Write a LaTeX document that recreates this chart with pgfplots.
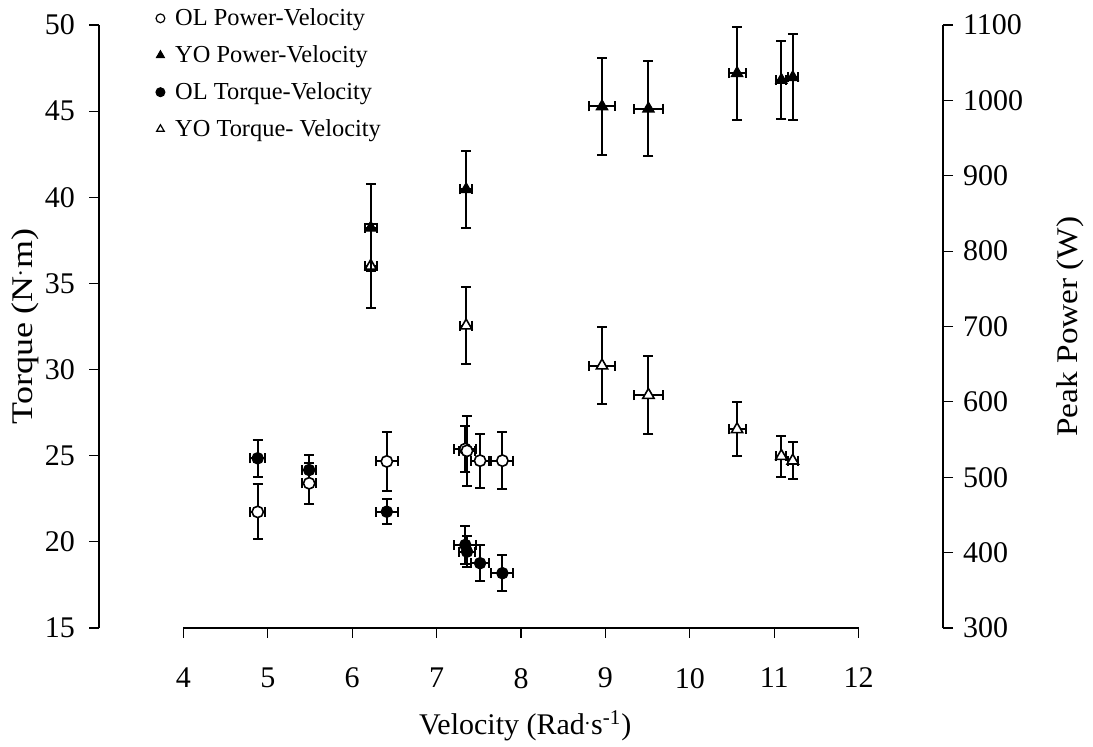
\documentclass[border=0pt]{standalone}
\usepackage{fontspec}
\setmainfont{Liberation Serif}
\usepackage{pgfplots}
\pgfplotsset{compat=1.18}
\usepackage{pgfplotstable}

% OL group: velocity, velocity error, torque, torque error, power, power error
\pgfplotstableread{
x      xe    T      Te    P      Pe
4.88   0.09  24.85  1.06  454    36.5
5.49   0.08  24.17  0.87  492    27.5
6.41   0.13  21.75  0.73  521    39
7.34   0.13  19.82  1.10  537.5  31
7.36   0.10  19.43  0.90  535    46
7.515  0.11  18.76  1.04  522    36
7.78   0.13  18.18  1.06  522    37.6
}\oltable

% YO group
\pgfplotstableread{
x      xe    T      Te    P      Pe
6.22   0.07  36.01  2.42  831    58
7.35   0.07  32.55  2.22  882    51
8.96   0.15  30.23  2.25  992    64
9.51   0.17  28.52  2.27  989    63
10.56  0.10  26.53  1.57  1036   62
11.085 0.06  24.98  1.19  1027   52
11.22  0.06  24.71  1.07  1030.6 57
}\yotable

\begin{document}
\begin{tikzpicture}
\pgfplotsset{
  common/.style={
    scale only axis, width=422pt, height=301.5pt,
    xmin=3, xmax=13,
    /pgf/number format/assume math mode=true,
    /pgf/number format/1000 sep={},
    tick align=outside, major tick length=5pt,
    every tick/.style={black, line width=0.6pt},
    axis line style={black, line width=0.6pt, -},
    ticklabel style={font=\fontsize{15}{17}\selectfont},
    label style={font=\fontsize{15}{17}\selectfont},
    clip=false,
  },
  ebars/.style={
    only marks,
    error bars/x dir=both, error bars/x explicit,
    error bars/y dir=both, error bars/y explicit,
    error bars/error bar style={line width=1pt, black},
    error bars/error mark options={rotate=90, black, line width=1pt, mark size=2.5pt},
  },
}
\begin{axis}[common,
  axis y line*=left, axis x line*=bottom,
  x axis line style={shorten <=42.2pt, shorten >=42.2pt},
  xtick={4,...,12},
  xticklabel style={yshift=-11.5pt},
  ymin=15, ymax=50, ytick={15,20,...,50},
  yticklabel style={xshift=-3.5pt},
  xlabel={Velocity (Rad\textsuperscript{.}s\textsuperscript{-1})},
  xlabel style={at={(axis description cs:0.505,-0.1625)}, anchor=center},
  ylabel={\scalebox{1.2}[1]{Torque (N\textsuperscript{.}m)}},
  ylabel style={at={(axis description cs:-0.0877,0.5)}, anchor=center},
]
% OL Torque-Velocity
\addplot[ebars, mark=*, mark size=2.83pt, mark options={fill=black, draw=black, line width=0.6pt}]
  table[x=x, y=T, x error=xe, y error=Te]{\oltable};
% YO Torque-Velocity
\addplot[ebars, mark=triangle*, mark size=3.26pt, mark options={fill=white, draw=black, line width=0.8pt}]
  table[x=x, y=T, x error=xe, y error=Te]{\yotable};
\end{axis}

\begin{axis}[common,
  axis y line*=right, axis x line=none,
  ymin=300, ymax=1100, ytick={300,400,...,1100},
  yticklabel style={xshift=1.5pt},
  ylabel={\scalebox{1.11}[1]{Peak Power (W)}},
  ylabel style={at={(axis description cs:1.1505,0.5)}, anchor=center},
  legend style={at={(0.06,1.0415)}, anchor=north west, draw=none, fill=none,
    font=\fontsize{12.2}{14}\selectfont, row sep=4.5pt},
  legend cell align=left,
  legend image code/.code={\draw[#1, mark size=2.2pt, line width=0.6pt] plot coordinates {(0cm,0cm)}; \path (5.2pt,0pt);},
]
% OL Power-Velocity
\addplot[ebars, forget plot, mark=*, mark size=2.83pt, mark options={fill=white, draw=black, line width=0.8pt}]
  table[x=x, y=P, x error=xe, y error=Pe]{\oltable};
% YO Power-Velocity
\addplot[ebars, forget plot, mark=triangle*, mark size=3.26pt, mark options={fill=black, draw=black, line width=0.6pt}]
  table[x=x, y=P, x error=xe, y error=Pe]{\yotable};

\addlegendimage{only marks, mark=*, mark options={fill=white, draw=black}}
\addlegendentry{OL Power-Velocity}
\addlegendimage{only marks, mark=triangle*, mark options={fill=black, draw=black}}
\addlegendentry{YO Power-Velocity}
\addlegendimage{only marks, mark=*, mark options={fill=black, draw=black}}
\addlegendentry{OL Torque-Velocity}
\addlegendimage{only marks, mark=triangle*, mark options={fill=white, draw=black}}
\addlegendentry{YO Torque- Velocity}
\end{axis}

\pgfresetboundingbox
\path[use as bounding box] (-49.5pt,-59.5pt) rectangle (497pt,314pt);
\end{tikzpicture}
\end{document}
